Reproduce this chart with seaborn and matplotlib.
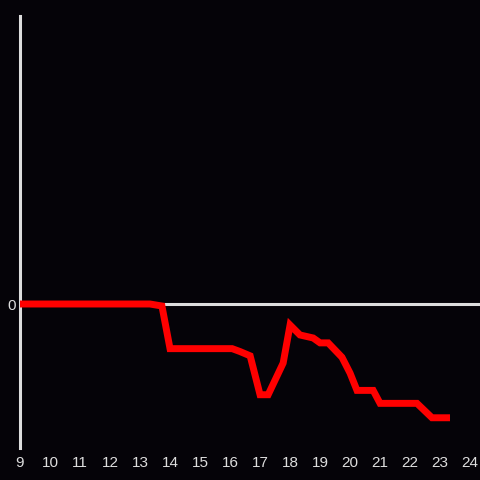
import numpy as np
import pandas as pd
import seaborn as sns
import matplotlib.pyplot as plt

# values (hour of day -> value)
hours = [9.0, 13.33, 13.73, 14.0, 16.07, 16.33, 16.67, 17.0, 17.27, 17.77, 18.0,
         18.33, 18.77, 19.0, 19.27, 19.73, 20.0, 20.23, 20.77, 21.0, 22.23, 22.73, 23.33]
values = [0.0, 0.0, -0.014, -0.31, -0.31, -0.33, -0.36, -0.63, -0.63, -0.41, -0.146,
          -0.215, -0.236, -0.27, -0.27, -0.37, -0.48, -0.6, -0.6, -0.69, -0.69, -0.79, -0.79]
xticks = list(range(9, 25))

df = pd.DataFrame({'hour': hours, 'value': values})

bg = '#050308'
fg = '#dddddd'
sns.set_style('dark')
plt.rcParams['font.family'] = ['Liberation Sans', 'DejaVu Sans']

fig = plt.figure(figsize=(4.8, 4.8), dpi=100, facecolor=bg)
ax = fig.add_axes([20 / 480, 32 / 480, 460 / 480, 432 / 480])
ax.set_facecolor(bg)

ax.axhline(0, color=fg, lw=2.2, zorder=1)
sns.lineplot(data=df, x='hour', y='value', ax=ax, color='#ff0000', lw=5,
             solid_joinstyle='miter', solid_capstyle='butt', zorder=3)

ax.set_xlim(9, 24.33)
ax.set_ylim(-1, 2)
ax.set_xticks(xticks)
ax.set_xticklabels([str(h) for h in xticks])
ax.set_yticks([0])
ax.set_yticklabels(['0'])
ax.tick_params(axis='both', length=0, colors=fg, labelsize=11)
ax.tick_params(axis='x', pad=6)
ax.tick_params(axis='y', pad=3)
ax.grid(False)
ax.set_xlabel('')
ax.set_ylabel('')
for s in ['top', 'right', 'bottom']:
    ax.spines[s].set_visible(False)
ax.spines['left'].set_color(fg)
ax.spines['left'].set_linewidth(2.2)

fig.savefig('out.png', dpi=100, facecolor=bg)
